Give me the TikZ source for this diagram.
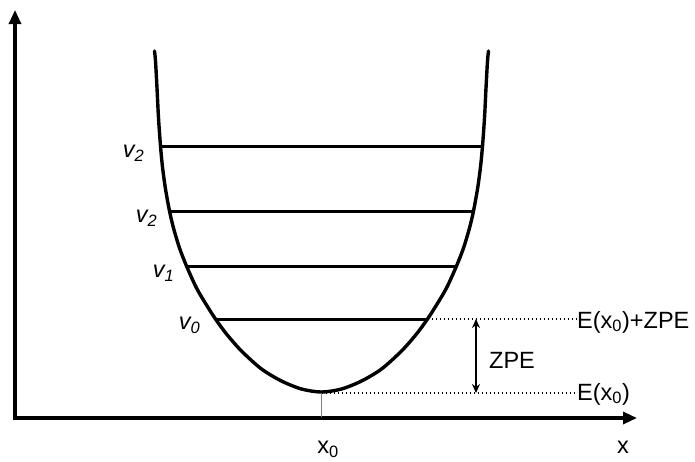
\documentclass[tikz,border=0pt]{standalone}
\usepackage{fontspec}
\setmainfont{Liberation Sans}
\usepackage{tikz}
\usetikzlibrary{arrows.meta,positioning}

\begin{document}
\begin{tikzpicture}[
  x=1pt, y=-1pt,
  font=\fontsize{23.5}{28}\selectfont,
  axis/.style={line width=3.2pt, -{Triangle[length=14pt,width=12pt]}},
  well/.style={line width=3.4pt, line cap=round, line join=round},
  level/.style={line width=3pt},
  guide/.style={line width=1.8pt, dash pattern=on 1.8pt off 2.2pt},
  gap/.style={{Stealth[length=9pt,width=8pt]}-{Stealth[length=9pt,width=8pt]}, line width=1.6pt},
  lbl/.style={inner sep=0pt},
  vlbl/.style={inner sep=0pt, font=\fontsize{23.5}{28}\selectfont\itshape}
]
\useasboundingbox (0,0) rectangle (695,461);

% axes
\coordinate (o) at (15,418);
\coordinate (ytip) at (15,10);
\coordinate (xtip) at (637,418);
\draw[axis] ([yshift=-1.6pt]o) -- (ytip);
\draw[axis] ([xshift=-1.6pt]o) -- (xtip);

% potential well
\draw[well] plot[smooth, tension=0.5] coordinates {
  (154.5,51) (155.5,61) (157,88) (158.5,118) (160.5,146) (162.5,167)
  (165.5,189) (169.5,211) (173.5,228) (179.5,248) (186.5,266) (196.5,288)
  (206.5,305) (215.5,319) (226.5,334) (241.5,351) (261.5,369) (281.5,381)
  (301.5,389) (321.5,392) (341.5,389) (361.5,381) (381.5,369) (401.5,351)
  (416.5,334) (427.5,319) (436.5,305) (446.5,288) (456.5,266) (463.5,248)
  (469.5,228) (473.5,211) (477.5,189) (480.5,167) (482.5,146) (484.5,118)
  (486,88) (487.5,61) (488.5,51)};

% vibrational levels
\coordinate (l3a) at (160.5,146); \coordinate (l3b) at (482.5,146);
\coordinate (l2a) at (169.5,211); \coordinate (l2b) at (473.5,211);
\coordinate (l1a) at (186.5,266); \coordinate (l1b) at (456.5,266);
\coordinate (l0a) at (215.5,319); \coordinate (l0b) at (427.5,319);
\draw[level] (l3a) -- (l3b);
\draw[level] (l2a) -- (l2b);
\draw[level] (l1a) -- (l1b);
\draw[level] (l0a) -- (l0b);

\node[vlbl, left=16pt of l3a, yshift=-7pt] (v3) {v\textsubscript{2}};
\node[vlbl, left=12pt of l2a, yshift=-7pt] (v2) {v\textsubscript{2}};
\node[vlbl, left=12pt of l1a, yshift=-7pt] (v1) {v\textsubscript{1}};
\node[vlbl, left=15pt of l0a, yshift=-6pt] (v0) {v\textsubscript{0}};

% minimum and energy marks
\coordinate (min) at (321.5,393);
\coordinate (foot) at (321.5,417);
\draw[gray, line width=0.7pt] (min) -- (foot);

\node[lbl, anchor=west] (ezpe) at (577,322) {E(x\textsubscript{0})+ZPE};
\node[lbl, anchor=west] (emin) at (577,394) {E(x\textsubscript{0})};
\draw[guide] (l0b) -- (ezpe.west |- l0b);
\draw[guide] (min) -- (emin.west |- min);

\coordinate (zt) at (476,319);
\coordinate (zb) at (476,393);
\draw[gap] (zt) -- (zb);
\node[lbl, anchor=west] (zpe) at (489,360) {ZPE};

\node[lbl] (x0) at (328,449) {x\textsubscript{0}};
\node[lbl] (xl) at (623,447) {x};
\end{tikzpicture}
\end{document}
